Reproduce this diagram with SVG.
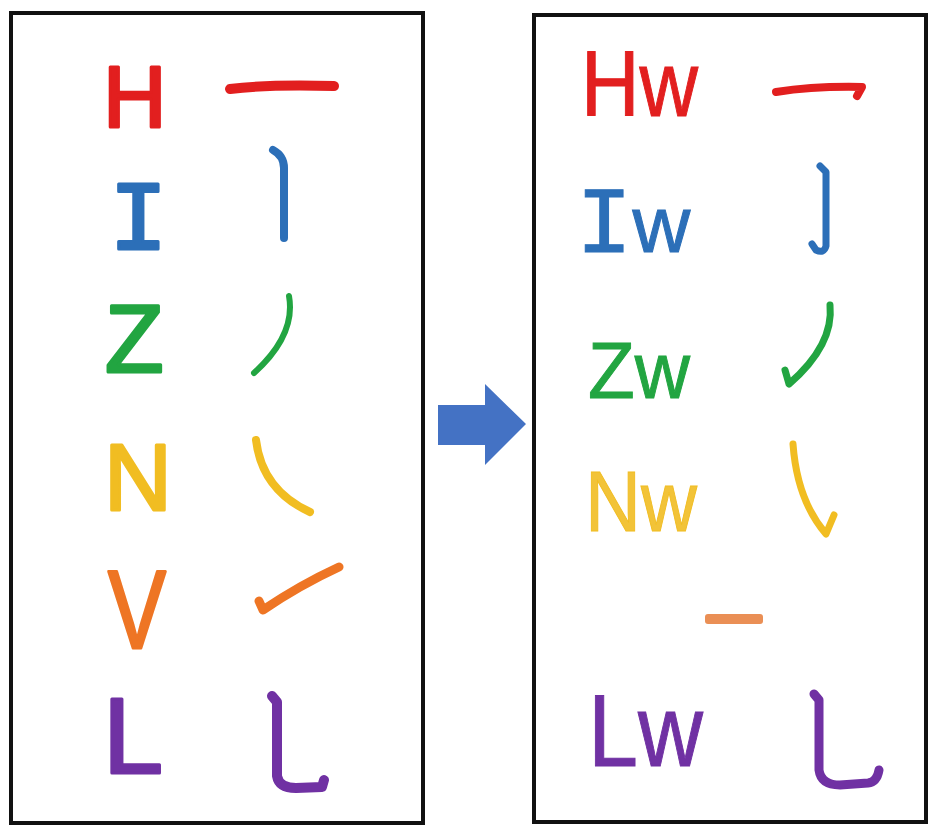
<svg xmlns="http://www.w3.org/2000/svg" width="931" height="825" viewBox="0 0 931 825">
<style>
.box{fill:#fff;stroke:#111;stroke-width:4}
.L{font-family:"Liberation Sans",Arial,sans-serif;font-weight:400;stroke-width:3;stroke-linejoin:round}
.R{font-family:"Liberation Sans",Arial,sans-serif;font-weight:400;stroke:none}
.mono{font-family:"Liberation Mono","DejaVu Sans Mono",monospace;font-weight:400}
.st{fill:none;stroke-linecap:round;stroke-linejoin:round}
.red{fill:#e21f1f;stroke:#e21f1f}
.blue{fill:#2c6fb8;stroke:#2c6fb8}
.green{fill:#22a541;stroke:#22a541}
.yellow{fill:#f1bd22;stroke:#f1bd22}
.orange{fill:#ee7524;stroke:#ee7524}
.purple{fill:#7031a3;stroke:#7031a3}
path.st{fill:none}
</style>
<rect width="931" height="825" fill="#fff"/>
<g id="left-box">
<rect class="box" x="11" y="13" width="412" height="810"/>
<g id="row-H"><text class="L red" x="103" y="127" font-size="88">H</text><path class="st red" stroke-width="10" d="M230 89 Q270 84 334 86"/></g>
<g id="row-I"><text class="L mono blue" x="109" y="249" font-size="98" stroke-width="4">I</text><path class="st blue" stroke-width="8" d="M273 150 Q284 156 284 168 L284 238"/></g>
<g id="row-Z"><text class="L green" x="105" y="372" font-size="96">Z</text><path class="st green" stroke-width="6" d="M289 296 Q296 335 254 373"/></g>
<g id="row-N"><text class="L yellow" x="104" y="510" font-size="94">N</text><path class="st yellow" stroke-width="8" d="M256 440 Q262 490 310 512"/></g>
<g id="row-V"><text class="L orange" x="108" y="648" font-size="112" textLength="58" lengthAdjust="spacingAndGlyphs">V</text><path class="st orange" stroke-width="9" d="M339 567 Q300 585 263 610 L259 601"/></g>
<g id="row-L"><text class="L purple" x="103" y="773" font-size="108">L</text><path class="st purple" stroke-width="10" d="M272 696 L277 702 L277 776 Q279 788 296 788 L322 787 L324 780"/></g>
</g>
<g id="arrow"><path fill="#4472c4" d="M438 405 L485 405 L485 384 L526 424 L485 465 L485 445 L438 445 Z"/></g>
<g id="right-box">
<rect class="box" x="534" y="15" width="392" height="807"/>
<g id="row-Hw"><text class="R red" x="581" y="116" font-size="92" textLength="117" lengthAdjust="spacingAndGlyphs">Hw</text><path class="st red" stroke-width="8" d="M776 92 Q815 86 862 87 L857 96"/></g>
<g id="row-Iw"><text class="R blue" x="576" y="252" font-size="80"><tspan class="mono" font-size="94">I</tspan>w</text><path class="st blue" stroke-width="7" d="M820 166 L826 172 L826 246 Q824 254 816 250 L812 244"/></g>
<g id="row-Zw"><text class="R green" x="588" y="398" font-size="80" textLength="102" lengthAdjust="spacingAndGlyphs">Zw</text><path class="st green" stroke-width="7" d="M830 305 Q834 345 789 384 L785 370"/></g>
<g id="row-Nw"><text class="R yellow" x="585" y="531" font-size="86" textLength="112" lengthAdjust="spacingAndGlyphs" fill-opacity="0.9">Nw</text><path class="st yellow" stroke-width="7" d="M793 444 Q797 500 826 534 L834 515"/></g>
<rect x="705" y="614" width="58" height="10" rx="3" fill="#ea8f55"/>
<g id="row-Lw"><text class="R purple" x="588" y="766" font-size="102" textLength="115" lengthAdjust="spacingAndGlyphs">Lw</text><path class="st purple" stroke-width="9" d="M814 694 L819 700 L819 770 Q821 785 840 785 L868 783 Q877 782 879 770"/></g>
</g>
</svg>
